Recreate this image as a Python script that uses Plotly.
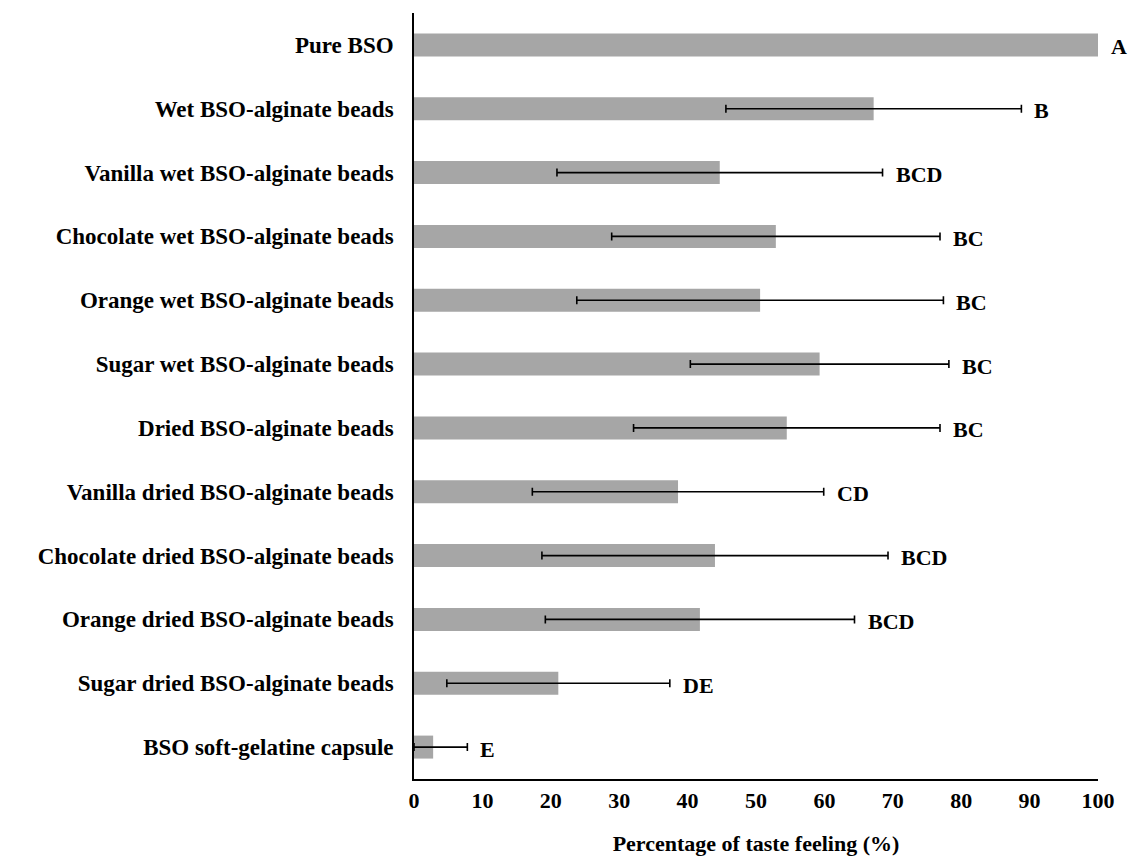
import plotly.graph_objects as go

categories = [
    "Pure BSO",
    "Wet BSO-alginate beads",
    "Vanilla wet BSO-alginate beads",
    "Chocolate wet BSO-alginate beads",
    "Orange wet BSO-alginate beads",
    "Sugar wet BSO-alginate beads",
    "Dried BSO-alginate beads",
    "Vanilla dried BSO-alginate beads",
    "Chocolate dried BSO-alginate beads",
    "Orange dried BSO-alginate beads",
    "Sugar dried BSO-alginate beads",
    "BSO soft-gelatine capsule",
]
values = [100, 67.2, 44.7, 52.9, 50.6, 59.3, 54.5, 38.6, 44.0, 41.8, 21.1, 2.8]
errors = [None, 21.6, 23.8, 24.0, 26.8, 18.9, 22.4, 21.3, 25.3, 22.6, 16.3, 5.0]
letters = ["A", "B", "BCD", "BC", "BC", "BC", "BC", "CD", "BCD", "BCD", "DE", "E"]

FONT = "Liberation Serif"
BAR_COLOR = "#a6a6a6"

with_err = [i for i, e in enumerate(errors) if e is not None]
no_err = [i for i, e in enumerate(errors) if e is None]

fig = go.Figure()
fig.add_trace(go.Bar(
    x=[values[i] for i in no_err],
    y=[categories[i] for i in no_err],
    orientation="h",
    marker=dict(color=BAR_COLOR, line=dict(width=0)),
    showlegend=False,
))
fig.add_trace(go.Bar(
    x=[values[i] for i in with_err],
    y=[categories[i] for i in with_err],
    orientation="h",
    marker=dict(color=BAR_COLOR, line=dict(width=0)),
    error_x=dict(type="data",
                 array=[errors[i] for i in with_err],
                 arrayminus=[min(errors[i], values[i]) for i in with_err],
                 color="black", thickness=1.6, width=4, visible=True),
    showlegend=False,
))

for cat, v, e, lab in zip(categories, values, errors, letters):
    fig.add_annotation(
        x=v + (e or 0), y=cat, text=lab, showarrow=False,
        xanchor="left", yanchor="middle", xshift=11, yshift=-2,
        font=dict(family=FONT, size=22, color="black", weight="bold"),
    )

fig.update_layout(
    width=1130, height=856,
    margin=dict(l=414, r=32, t=13, b=77),
    plot_bgcolor="white", paper_bgcolor="white",
    barmode="overlay",
    bargap=0.64,
    xaxis=dict(
        range=[0, 100], tickvals=list(range(0, 101, 10)),
        automargin=False,
        showline=True, linecolor="black", linewidth=1.6,
        showgrid=False, zeroline=False, ticks="",
        ticklabelstandoff=1,
        tickfont=dict(family=FONT, size=22, color="black", weight="bold"),
        title=dict(text="Percentage of taste feeling (%)", standoff=23,
                   font=dict(family=FONT, size=22, color="black", weight="bold")),
    ),
    yaxis=dict(
        categoryorder="array", categoryarray=categories,
        autorange="reversed", automargin=False,
        showline=True, linecolor="black", linewidth=1.6,
        showgrid=False, zeroline=False, ticks="",
        ticklabelstandoff=14,
        tickfont=dict(family=FONT, size=23, color="black", weight="bold"),
    ),
)

fig.write_html(
    "out.html",
    config={"displayModeBar": False},
    post_script="document.body.style.margin='0';document.body.style.overflow='hidden';",
)
